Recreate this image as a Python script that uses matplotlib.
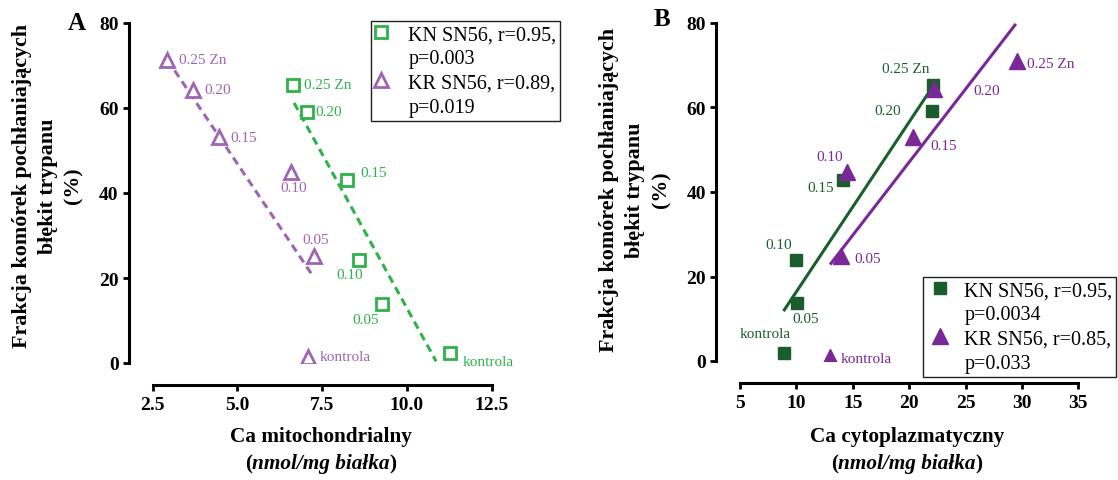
import matplotlib
matplotlib.use("Agg")
import matplotlib.pyplot as plt
from matplotlib.lines import Line2D
import numpy as np

plt.rcParams['font.family'] = ['Liberation Serif', 'DejaVu Serif']

# panel A - mitochondrial Ca
dose = ["kontrola", "0.05", "0.10", "0.15", "0.20", "0.25 Zn"]
kn_mito_x = [11.27, 9.27, 8.58, 8.24, 7.04, 6.63]
kn_mito_y = [2.3, 14.0, 24.3, 43.1, 59.1, 65.5]
kr_mito_x = [7.09, 7.26, 6.57, 4.46, 3.70, 2.93]
kr_mito_y = [1.5, 25.1, 44.9, 53.1, 64.3, 71.4]
kn_mito_fit_x = [6.67, 10.86]
kn_mito_fit_y = [61.2, 0.4]
kr_mito_fit_x = [2.93, 7.19]
kr_mito_fit_y = [71.4, 20.9]

# panel B - cytoplasmic Ca
kn_cyto_x = [8.9, 10.08, 9.96, 14.1, 21.99, 22.08]
kn_cyto_y = [1.9, 13.7, 24.0, 42.8, 59.1, 65.3]
kr_cyto_x = [12.98, 13.93, 14.46, 20.3, 22.23, 29.6]
kr_cyto_y = [1.0, 24.9, 44.7, 52.9, 64.4, 71.1]
kn_cyto_fit_x = [8.93, 21.9]
kn_cyto_fit_y = [12.1, 64.2]
kr_cyto_fit_x = [13.07, 29.38]
kr_cyto_fit_y = [23.1, 79.5]

leg_a = ["KN SN56, r=0.95,\np=0.003", "KR SN56, r=0.89,\np=0.019"]
leg_b = ["KN SN56, r=0.95,\np=0.0034", "KR SN56, r=0.85,\np=0.033"]
ylab = ["Frakcja komórek pochłaniających", "błękit trypanu", "(%)"]

green = '#2eb24a'
purple = '#a064b4'
dgreen = '#1b5e2d'
dpurple = '#7a2898'

# label offsets in pixels (dx, dy, ha)
off_kn_a = [(13, -8, 'left'), (-17, -16, 'center'), (-9, -15, 'center'), (13, 7, 'left'), (9, 0, 'left'), (11, 0, 'left')]
off_kr_a = [(11, 0, 'left'), (2, 17, 'center'), (3, -15, 'center'), (11, 0, 'left'), (11, 0, 'left'), (12, 0, 'left')]
off_kn_b = [(-19, 19, 'center'), (8, -15, 'center'), (-17, 15, 'center'), (-9, -7, 'right'), (-31, 1, 'right'), (-27, 17, 'center')]
off_kr_b = [(11, -2, 'left'), (14, -3, 'left'), (-17, 16, 'center'), (18, -8, 'left'), (39, -2, 'left'), (10, -3, 'left')]

W, H = 1118, 481
fig = plt.figure(figsize=(W / 100, H / 100), dpi=100)
axA = fig.add_axes([152.7 / W, 1 - 364 / H, 339 / W, 340 / H])
axB = fig.add_axes([740 / W, 1 - 362 / H, 338.3 / W, 338 / H])


def style_axis(ax):
    for s in ['top', 'right']:
        ax.spines[s].set_visible(False)
    ax.spines['left'].set_position(('outward', 17))
    ax.spines['bottom'].set_position(('outward', 16))
    for s in ['left', 'bottom']:
        ax.spines[s].set_linewidth(2.2)
    ax.tick_params(width=2, length=4.5, labelsize=14, pad=3)
    for t in ax.get_xticklabels() + ax.get_yticklabels():
        t.set_fontweight('bold')
    ax.set_ylim(0, 80)
    ax.set_yticks([0, 20, 40, 60, 80])


def label_points(ax, xs, ys, offs, color):
    for x, y, lab, (dx, dy, ha) in zip(xs, ys, dose, offs):
        ax.annotate(lab, (x, y), xytext=(dx, dy), textcoords='offset pixels',
                    ha=ha, va='center', color=color, fontsize=11)


# A
axA.plot(kn_mito_fit_x, kn_mito_fit_y, color=green, lw=2.2, ls=(0, (2.6, 1.7)))
axA.plot(kr_mito_fit_x, kr_mito_fit_y, color=purple, lw=2.2, ls=(0, (2.6, 1.7)))
hA1, = axA.plot(kn_mito_x, kn_mito_y, 's', mfc='white', mec=green, mew=2, ms=8)
hA2, = axA.plot(kr_mito_x, kr_mito_y, '^', mfc='white', mec=purple, mew=2, ms=10)
label_points(axA, kn_mito_x, kn_mito_y, off_kn_a, green)
label_points(axA, kr_mito_x, kr_mito_y, off_kr_a, purple)
axA.set_xlim(2.5, 12.5)
axA.set_xticks([2.5, 5.0, 7.5, 10.0, 12.5])
axA.set_xticklabels(["2.5", "5.0", "7.5", "10.0", "12.5"])
style_axis(axA)

# B
axB.plot(kn_cyto_fit_x, kn_cyto_fit_y, color=dgreen, lw=2.2)
axB.plot(kr_cyto_fit_x, kr_cyto_fit_y, color=dpurple, lw=2.2)
hB1, = axB.plot(kn_cyto_x, kn_cyto_y, 's', color=dgreen, ms=9)
hB2, = axB.plot(kr_cyto_x, kr_cyto_y, '^', color=dpurple, ms=11)
label_points(axB, kn_cyto_x, kn_cyto_y, off_kn_b, dgreen)
label_points(axB, kr_cyto_x, kr_cyto_y, off_kr_b, dpurple)
axB.set_xlim(5, 35)
axB.set_xticks([5, 10, 15, 20, 25, 30, 35])
style_axis(axB)

# legends: marker on the first line of each two-line label
blank = Line2D([], [], ls='none')
for hs, labs, anchor, hl, tpad in [((hA1, hA2), leg_a, (371 / W, 1 - 22 / H), 0.6, 1.05),
                                   ((hB1, hB2), leg_b, (923 / W, 1 - 278 / H), 1.3, 0.55)]:
    handles, texts = [], []
    for h, lab in zip(hs, labs):
        first, second = lab.split("\n")
        handles += [h, blank]
        texts += [first, second]
    leg = fig.legend(handles, texts, loc='upper left', bbox_to_anchor=anchor,
                     fontsize=14.5, frameon=True, fancybox=False, edgecolor='#222222',
                     framealpha=1, borderpad=0.2, labelspacing=0.25, markerscale=1.0,
                     handlelength=hl, handletextpad=tpad, borderaxespad=0)
    leg.get_frame().set_linewidth(1.0)

# y labels, one text per line
for x0, yc in [(21.7, 186), (609, 190)]:
    for i, line in enumerate(ylab):
        fig.text((x0 + 26 * i) / W, 1 - yc / H, line, rotation=90, ha='center', va='center',
                 fontsize=15.8, fontweight='bold')

# panel letters
fig.text(77 / W, 1 - 23 / H, "A", ha='center', va='center', fontsize=18, fontweight='bold')
fig.text(662 / W, 1 - 20 / H, "B", ha='center', va='center', fontsize=18, fontweight='bold')

# x labels
fig.text(321 / W, 1 - 437 / H, "Ca mitochondrialny", ha='center', va='center',
         fontsize=15.3, fontweight='bold')
fig.text(907 / W, 1 - 437 / H, "Ca cytoplazmatyczny", ha='center', va='center',
         fontsize=15.3, fontweight='bold')

fig.canvas.draw()
renderer = fig.canvas.get_renderer()


def mixed_label(xc, y):
    parts = [("(", 'normal'), ("nmol/mg białka", 'italic'), (")", 'normal')]
    texts = []
    for s, st in parts:
        texts.append(fig.text(0, y, s, ha='left', va='center', fontsize=15.3,
                              fontweight='bold', fontstyle=st))
    widths = [t.get_window_extent(renderer).width for t in texts]
    x = xc - sum(widths) / 2
    for t, w in zip(texts, widths):
        t.set_x(x / W)
        x += w


mixed_label(321, 1 - 464 / H)
mixed_label(907, 1 - 464 / H)

fig.savefig("out.png", dpi=100)
